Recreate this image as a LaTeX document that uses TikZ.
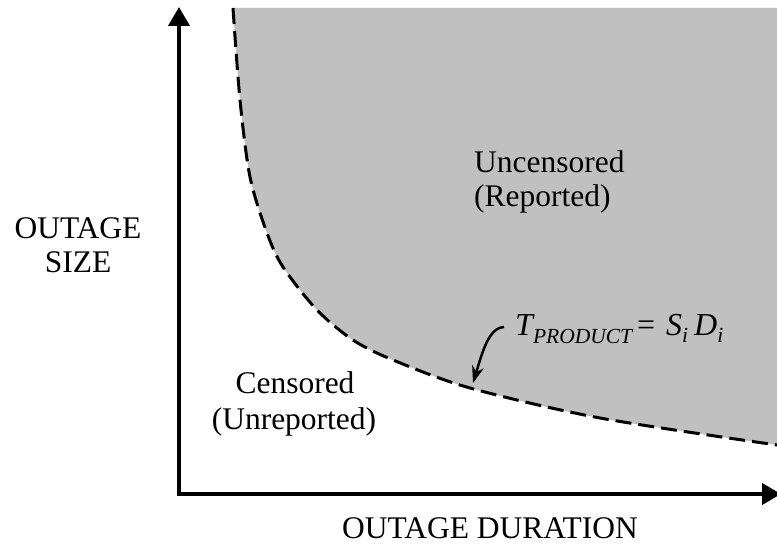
\documentclass[tikz,border=0pt]{standalone}
\usepackage{fontspec}
\setmainfont{Liberation Serif}
\usetikzlibrary{arrows.meta}
\begin{document}
\begin{tikzpicture}[x=1pt,y=-1pt,
  lbl/.style={font=\fontsize{31.5}{35}\selectfont, inner sep=0pt, align=center},
  axis/.style={line width=4pt, -{Triangle[width=21pt,length=19pt]}},
  bound/.style={line width=3pt, dash pattern=on 16pt off 7pt},
  pointer/.style={line width=2.5pt, -{Stealth[width=12pt,length=17pt]}}]
\useasboundingbox (0,0) rectangle (777,545);
% shaded region
\fill[fill={rgb,255:red,192;green,192;blue,192}]
  plot[smooth] coordinates {(233,8) (240,100) (250,177) (267,233) (283,267) (317,310) (353,340) (393,360) (470,388) (600,418) (777,445)}
  -- (777,8) -- cycle;
% boundary curve
\draw[bound] plot[smooth] coordinates {(233,8) (240,100) (250,177) (267,233) (283,267) (317,310) (353,340) (393,360) (470,388) (600,418) (777,445)};
% axes
\coordinate (origin) at (179,494);
\coordinate (ytop) at (179,7);
\coordinate (xend) at (781,494);
\draw[axis] (origin) -- (ytop);
\draw[axis] (origin) -- (xend);
\fill (177,492) rectangle (181,496);
% labels
\node[lbl, anchor=base] (ylab1) at (78,239) {OUTAGE};
\node[lbl, anchor=base] (ylab2) at (78,273) {SIZE};
\node[lbl, anchor=base] (xlab) at (490,538) {OUTAGE DURATION};
\node[lbl, anchor=base west] (unc1) at (474,173) {Uncensored};
\node[lbl, anchor=base west] (unc2) at (474,207) {(Reported)};
\node[lbl, anchor=base] (cen1) at (295,394) {Censored};
\node[lbl, anchor=base] (cen2) at (294,429) {(Unreported)};
\node[anchor=base west, inner sep=0pt, font=\fontsize{32}{32}\selectfont] (formula) at (515,336)
  {\itshape T\raisebox{-8pt}{\fontsize{21.5}{21.5}\selectfont PRODUCT}\hspace{5pt}\upshape=\hspace{11pt}\itshape S\raisebox{-7pt}{\fontsize{21.5}{21.5}\selectfont i}\hspace{6pt}D\raisebox{-7pt}{\fontsize{21.5}{21.5}\selectfont i}};
\coordinate (tip) at (473,383);
\coordinate (tail) at (504,327);
\draw[pointer] (tail) .. controls (489,328) and (483,350) .. (tip);
\end{tikzpicture}
\end{document}
